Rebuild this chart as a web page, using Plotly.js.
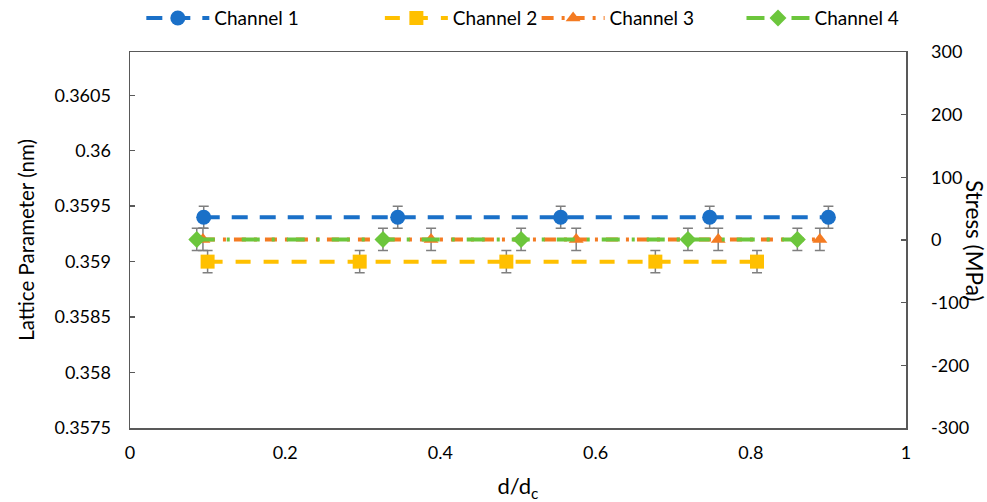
<!DOCTYPE html>
<html>
<head>
<meta charset="utf-8">
<script src="https://cdn.plot.ly/plotly-3.0.1.min.js"></script>
<style>html,body{margin:0;padding:0;background:#fff;}#chart{width:987px;height:502px;}</style>
</head>
<body>
<div id="chart"></div>
<script>
// Data
const seriesNames = ["Channel 1", "Channel 2", "Channel 3", "Channel 4"];
const ch1X = [0.095, 0.345, 0.555, 0.747, 0.9];
const ch1Y = [0.3594, 0.3594, 0.3594, 0.3594, 0.3594];
const ch2X = [0.1, 0.296, 0.485, 0.677, 0.808];
const ch2Y = [0.359, 0.359, 0.359, 0.359, 0.359];
const ch3X = [0.094, 0.388, 0.575, 0.758, 0.889];
const ch3Y = [0.3592, 0.3592, 0.3592, 0.3592, 0.3592];
const ch4X = [0.086, 0.326, 0.504, 0.719, 0.86];
const ch4Y = [0.3592, 0.3592, 0.3592, 0.3592, 0.3592];
const errLattice = 0.0001;
const leftTickVals = [0.3575, 0.358, 0.3585, 0.359, 0.3595, 0.36, 0.3605];
const leftTickText = ["0.3575", "0.358", "0.3585", "0.359", "0.3595", "0.36", "0.3605"];
const rightTickVals = [-300, -200, -100, 0, 100, 200, 300];
const rightTickText = ["-300", "-200", "-100", "0", "100", "200", "300"];
const xTickVals = [0, 0.2, 0.4, 0.6, 0.8, 1];
const xTickText = ["0", "0.2", "0.4", "0.6", "0.8", "1"];

const FONT = "Lato, 'Open Sans', sans-serif";
const errStyle = {type: 'constant', value: errLattice, color: '#7f7f7f', thickness: 1.5, width: 5, visible: true};

const styles = [
  {color: '#1a70c8', dash: '16px,12px', symbol: 'circle', size: 15, legend: 'legend'},
  {color: '#ffc000', dash: '15px,13px', symbol: 'square', size: 14, legend: 'legend2'},
  {color: '#f47b22', dash: '12px,8px,3px,8px', symbol: 'triangle-up', size: 13, legend: 'legend3'},
  {color: '#6cc63c', dash: '18px,12px,3px,12px', symbol: 'diamond', size: 13, legend: 'legend4'}
];
const xs = [ch1X, ch2X, ch3X, ch4X];
const ys = [ch1Y, ch2Y, ch3Y, ch4Y];

const traces = seriesNames.map((n, i) => ({
  type: 'scatter', mode: 'lines+markers', name: n,
  x: xs[i], y: ys[i], xaxis: 'x', yaxis: 'y',
  line: {color: styles[i].color, width: 4, dash: styles[i].dash},
  marker: {color: styles[i].color, symbol: styles[i].symbol, size: styles[i].size},
  error_y: errStyle,
  legend: styles[i].legend
}));
// invisible trace to activate the right (stress) axis
traces.push({type: 'scatter', x: [0], y: [0], xaxis: 'x', yaxis: 'y2', mode: 'markers',
  marker: {opacity: 0}, showlegend: false, hoverinfo: 'skip'});

function leg(x) {
  return {x: x, xanchor: 'left', y: 1.09, yanchor: 'middle', orientation: 'h',
    itemwidth: 63, font: {family: FONT, size: 19, color: '#000'}, bgcolor: 'rgba(0,0,0,0)', borderwidth: 0};
}

const layout = {
  width: 987, height: 502,
  margin: {l: 130, r: 81, t: 52, b: 74, autoexpand: false},
  paper_bgcolor: '#fff', plot_bgcolor: '#fff',
  font: {family: FONT, size: 18, color: '#000'},
  showlegend: true,
  legend: leg(0.0146), legend2: leg(0.322), legend3: leg(0.524), legend4: leg(0.788),
  xaxis: {
    range: [0, 1], tickvals: xTickVals, ticktext: xTickText, ticks: '',
    showgrid: false, zeroline: false, showline: true, linecolor: '#595959', linewidth: 1.5, mirror: true,
    tickfont: {family: FONT, size: 18, color: '#000'}, ticklabelstandoff: 8,
    title: {text: 'd/d<sub>c</sub>', font: {family: FONT, size: 22, color: '#000'}, standoff: 18},
    automargin: false
  },
  yaxis: {
    range: [0.3575, 0.36089], tickvals: leftTickVals, ticktext: leftTickText,
    ticks: 'inside', ticklen: 5, tickcolor: '#595959', tickwidth: 1.5,
    showgrid: false, zeroline: false, showline: true, linecolor: '#595959', linewidth: 1.5,
    tickfont: {family: FONT, size: 18, color: '#000'}, ticklabelstandoff: 14,
    title: {text: 'Lattice Parameter (nm)', font: {family: FONT, size: 20.5, color: '#000'}, standoff: 14},
    automargin: false
  },
  yaxis2: {
    overlaying: 'y', side: 'right', range: [-300, 300], tickvals: rightTickVals, ticktext: rightTickText,
    ticks: 'inside', ticklen: 5, tickcolor: '#595959', tickwidth: 1.5,
    showgrid: false, zeroline: false, showline: true, linecolor: '#595959', linewidth: 1.5,
    tickfont: {family: FONT, size: 18, color: '#000'}, ticklabelstandoff: 20,
    automargin: false
  },
  annotations: [{
    text: 'Stress (MPa)', xref: 'paper', yref: 'paper', x: 1.0, xshift: 69, y: 0.5,
    xanchor: 'center', yanchor: 'middle', textangle: 90, showarrow: false,
    font: {family: FONT, size: 22.5, color: '#000'}
  }]
};

Plotly.newPlot('chart', traces, layout, {displayModeBar: false, staticPlot: true});
</script>
</body>
</html>
